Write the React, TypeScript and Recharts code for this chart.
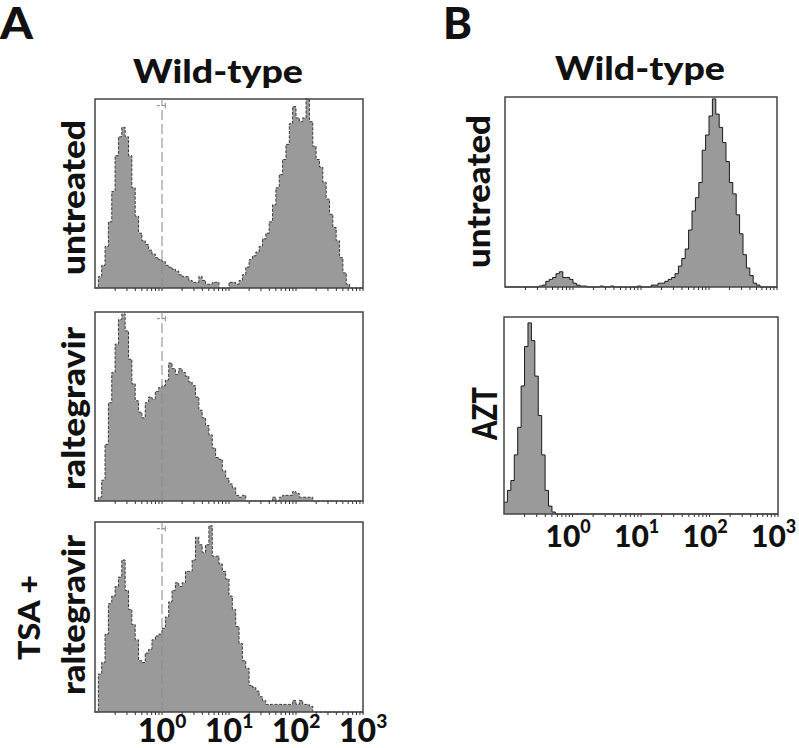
import React from 'react';
import { AreaChart, Area, XAxis, YAxis, ReferenceArea, ReferenceLine } from 'recharts';

// histogram bins: 80 bins of 0.05 decade, from 10^-1 to 10^3
const LOG_MIN = -1;
const BIN_STEP = 0.05;

// tick marks on the log axis
const xTicks = [
  0.2, 0.3, 0.4, 0.5, 0.6, 0.7, 0.8, 0.9, 1,
  2, 3, 4, 5, 6, 7, 8, 9, 10,
  20, 30, 40, 50, 60, 70, 80, 90, 100,
  200, 300, 400, 500, 600, 700, 800, 900, 1000,
];
const decades = [1, 10, 100, 1000];
const decadeExps = ['0', '1', '2', '3'];

// % of max channel count
const wtUntreatedA = [
  0, 6, 12, 22, 35, 51, 70, 80, 85, 80,
  70, 53, 38, 29, 25, 23, 20, 18, 16, 15,
  14, 12, 11, 10, 9, 7, 6, 6, 4, 3,
  3, 6, 4, 2, 2, 3, 3, 0, 0, 0,
  3, 3, 2, 4, 7, 11, 15, 17, 19, 22,
  26, 29, 35, 44, 53, 60, 68, 76, 87, 96,
  90, 88, 90, 100, 88, 75, 68, 64, 56, 47,
  39, 32, 25, 16, 8, 2, 0, 0, 0, 0,
];
const wtRaltegravir = [
  0, 2, 11, 30, 52, 68, 83, 96, 99, 90,
  75, 62, 53, 47, 44, 52, 55, 54, 58, 60,
  61, 64, 73, 70, 67, 70, 68, 66, 63, 61,
  55, 48, 44, 40, 35, 28, 23, 22, 16, 12,
  9, 7, 3, 2, 3, 0, 0, 0, 0, 0,
  0, 0, 0, 2, 0, 2, 3, 3, 3, 5,
  4, 2, 2, 2, 2, 0, 0, 0, 0, 0,
  0, 0, 0, 0, 0, 0, 0, 0, 0, 0,
];
const wtTsaRaltegravir = [
  0, 20, 26, 41, 57, 61, 66, 71, 80, 64,
  54, 46, 38, 27, 26, 31, 33, 38, 40, 41,
  44, 50, 58, 64, 68, 66, 68, 74, 74, 80,
  92, 88, 84, 88, 98, 82, 82, 78, 74, 70,
  61, 54, 45, 36, 27, 23, 14, 13, 11, 8,
  6, 4, 4, 4, 4, 4, 4, 4, 4, 6,
  4, 6, 4, 4, 3, 0, 0, 0, 0, 0,
  0, 0, 0, 0, 0, 0, 0, 0, 0, 0,
];
const wtUntreatedB = [
  0, 0, 0, 0, 0, 0, 0, 0, 0, 0,
  0.5, 1, 3, 4, 5, 7, 8, 5, 5, 4,
  2, 1, 0.5, 0.5, 0, 0, 0, 0, 0.5, 0,
  0, 0.5, 0, 0, 0, 0, 0, 0, 0, 0.5,
  0, 0, 0, 1, 1, 2, 2, 3, 4, 5,
  7, 11, 15, 20, 30, 40, 47, 55, 72, 80,
  90, 99, 91, 84, 76, 66, 55, 49, 38, 28,
  17, 10, 6, 2, 1, 0, 0, 0, 0, 0,
];
const wtAzt = [
  6, 12, 17, 30, 44, 65, 85, 97, 88, 70,
  50, 30, 12, 4, 1, 0, 0, 0, 0, 0,
  0, 0, 0, 0, 0, 0, 0, 0, 0, 0,
  0, 0, 0, 0, 0, 0, 0, 0, 0, 0,
  0, 0, 0, 0, 0, 0, 0, 0, 0, 0,
  0, 0, 0, 0, 0, 0, 0, 0, 0, 0,
  0, 0, 0, 0, 0, 0, 0, 0, 0, 0,
  0, 0, 0, 0, 0, 0, 0, 0, 0, 0,
];
const yTicksB1 = [16, 32, 47, 63, 79, 94];
const yTicksB2 = [81];

const FONT = "Lato, 'Open Sans', 'Liberation Sans', sans-serif";
const PAD = 6;

const toBins = (counts: number[]) =>
  counts
    .map((c, i) => ({ x: Math.pow(10, LOG_MIN + i * BIN_STEP), count: c }))
    .concat([{ x: 1000, count: 0 }]);

const DecadeTick = (props: any) => {
  const { x, y, payload, show, dx, dy, size } = props;
  const idx = decades.indexOf(payload.value);
  if (!show || idx < 0) return <g />;
  return (
    <text x={x + dx} y={y + dy} fontFamily={FONT} fontWeight={900} fontSize={size} fill="#111">
      10<tspan fontSize={size * 0.6} dy={-14}>{decadeExps[idx]}</tspan>
    </text>
  );
};

interface HistProps {
  counts: number[];
  left: number;
  top: number;
  width: number;
  height: number;
  labels?: boolean;
  styleA?: boolean;
  yTicks?: number[];
}

const Histogram = ({ counts, left, top, width, height, labels, styleA, yTicks }: HistProps) => {
  const axisH = labels ? 46 : 10;
  const extraRight = labels ? 40 : 0;
  return (
    <div style={{ position: 'absolute', left: left - PAD, top: top - PAD }}>
      <AreaChart
        width={width + PAD * 2 + extraRight}
        height={height + PAD + axisH}
        data={toBins(counts)}
        margin={{ top: PAD, right: PAD + extraRight, left: PAD, bottom: 0 }}
      >
        <XAxis
          dataKey="x"
          type="number"
          scale="log"
          domain={[0.1, 1000]}
          allowDataOverflow
          ticks={xTicks}
          interval={0}
          height={axisH}
          axisLine={false}
          tickSize={3}
          tickLine={{ stroke: '#333', strokeWidth: 1 }}
          tick={
            <DecadeTick
              show={labels}
              size={styleA ? 32 : 30}
              dx={styleA ? -24 : -27}
              dy={styleA ? 25 : 28}
            />
          }
        />
        {yTicks ? (
          <YAxis
            domain={[0, 100]}
            mirror
            ticks={yTicks}
            tick={false}
            tickSize={2}
            axisLine={false}
            tickLine={{ stroke: '#555' }}
          />
        ) : (
          <YAxis domain={[0, 100]} hide />
        )}
        <Area
          type="stepAfter"
          dataKey="count"
          fill="#9a9a9a"
          fillOpacity={1}
          stroke={styleA ? '#3a3a3a' : '#1a1a1a'}
          strokeWidth={1}
          strokeDasharray={styleA ? '3 1.5' : undefined}
          isAnimationActive={false}
        />
        {styleA && (
          <ReferenceLine x={1} stroke="#888" strokeWidth={1} strokeDasharray="10 4" />
        )}
        {styleA && (
          <ReferenceLine
            segment={[{ x: 0.84, y: 96.5 }, { x: 1.2, y: 96.5 }]}
            stroke="#888"
            strokeDasharray="3 2"
          />
        )}
        {styleA && (
          <ReferenceLine
            segment={[{ x: 1.12, y: 95 }, { x: 1.12, y: 98 }]}
            stroke="#888"
          />
        )}
        <ReferenceArea x1={0.1} x2={1000} y1={0} y2={100} fill="none" stroke="#444" strokeWidth={1.5} />
      </AreaChart>
    </div>
  );
};

const Label = ({ x, y, text, len, size, rotate }: any) => (
  <text
    transform={rotate ? `translate(${x},${y}) rotate(-90)` : `translate(${x},${y})`}
    fontFamily={FONT}
    fontWeight={900}
    fontSize={size}
    fill="#111"
    textLength={len}
    lengthAdjust="spacingAndGlyphs"
  >
    {text}
  </text>
);

export default function App() {
  return (
    <div style={{ position: 'absolute', left: 0, top: 0, width: 799, height: 748, background: '#fff' }}>
      <Histogram counts={wtUntreatedA} left={95} top={99} width={268} height={189} styleA />
      <Histogram counts={wtRaltegravir} left={95} top={312} width={268} height={189} styleA />
      <Histogram counts={wtTsaRaltegravir} left={95} top={522} width={268} height={190} styleA labels />
      <Histogram counts={wtUntreatedB} left={505} top={97} width={272} height={190} yTicks={yTicksB1} />
      <Histogram counts={wtAzt} left={504} top={317} width={274} height={197} yTicks={yTicksB2} labels />
      <svg width={799} height={748} style={{ position: 'absolute', left: 0, top: 0, pointerEvents: 'none' }}>
        <Label x={0} y={39} text="A" len={33} size={44} />
        <Label x={443} y={39} text="B" len={29} size={44} />
        <Label x={133} y={83} text="Wild-type" len={170} size={32} />
        <Label x={555} y={80} text="Wild-type" len={170} size={32} />
        <Label x={85} y={275} text="untreated" len={155} size={32} rotate />
        <Label x={85} y={490} text="raltegravir" len={163} size={32} rotate />
        <Label x={40} y={660} text="TSA +" len={85} size={30} rotate />
        <Label x={85} y={695} text="raltegravir" len={160} size={32} rotate />
        <Label x={490} y={268} text="untreated" len={153} size={32} rotate />
        <Label x={497} y={440} text="AZT" len={53} size={34} rotate />
      </svg>
    </div>
  );
}
